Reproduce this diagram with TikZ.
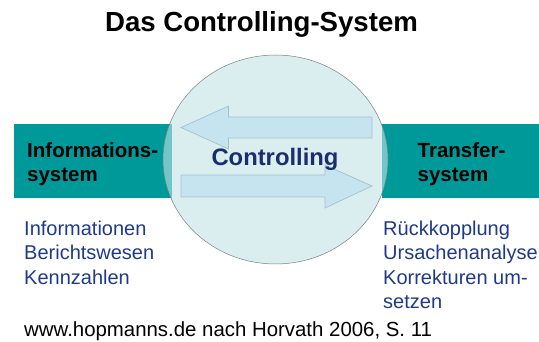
\documentclass[tikz,border=0pt]{standalone}
\usepackage{fontspec}
\setmainfont{Liberation Sans}
\usetikzlibrary{positioning,shapes.geometric}

\definecolor{bandteal}{RGB}{0,153,153}
\definecolor{ringfill}{RGB}{193,227,230}
\definecolor{ringline}{RGB}{120,130,130}
\definecolor{arrowfill}{RGB}{198,227,240}
\definecolor{arrowline}{RGB}{165,192,205}
\definecolor{darkblue}{RGB}{26,46,110}
\definecolor{listblue}{RGB}{31,58,138}

\tikzset{
  bandtext/.style={anchor=base west, align=left, font=\fontsize{20.5}{24}\selectfont\bfseries, inner sep=0pt},
  listtext/.style={anchor=base west, align=left, text=listblue, font=\fontsize{20}{24.5}\selectfont, inner sep=0pt},
  flowarrow/.style={fill=arrowfill, draw=arrowline, line width=0.7pt}
}

\begin{document}
\begin{tikzpicture}[x=1pt, y=-1pt]
\useasboundingbox (0,0) rectangle (539,342);
% title
\node[anchor=base, inner sep=0pt, font=\fontsize{27.6}{30}\selectfont\bfseries] (title) at (261.5,32) {Das Controlling-System};
% teal band, left and right part
\fill[bandteal] (14,124) rectangle (172,198);
\fill[bandteal] (382,124) rectangle (539,198);
% circle
\node[ellipse, minimum width=225, minimum height=209, inner sep=0pt, fill=ringfill, fill opacity=0.6, draw=ringline, line width=0.5pt] (ring) at (275.5,159.5) {};
% arrows
\draw[flowarrow] (181,127.5) -- (228.5,106) -- (228.5,117) -- (372,117) -- (372,138) -- (228.5,138) -- (228.5,149) -- cycle;
\draw[flowarrow] (372,186) -- (325,165) -- (325,175) -- (181,175) -- (181,197) -- (325,197) -- (325,208) -- cycle;
\node[anchor=base, inner sep=0pt, text=darkblue, font=\fontsize{23.8}{26}\selectfont\bfseries] (ctrl) at (275,166) {Controlling};
% band labels (base = last line)
\node[bandtext] (info) at (27,182) {Informations-\\system};
\node[bandtext] (trans) at (417.5,182) {Transfer-\\system};
% lists
\node[listtext] (infolist) at (24,284) {Informationen\\Berichtswesen\\Kennzahlen};
\node[listtext] (translist) at (383,308.5) {Rückkopplung\\Ursachenanalyse\\Korrekturen um-\\setzen};
% source
\node[anchor=base west, inner sep=0pt, font=\fontsize{20.4}{24}\selectfont] (source) at (24,337) {www.hopmanns.de nach Horvath 2006, S. 11};
\end{tikzpicture}
\end{document}
